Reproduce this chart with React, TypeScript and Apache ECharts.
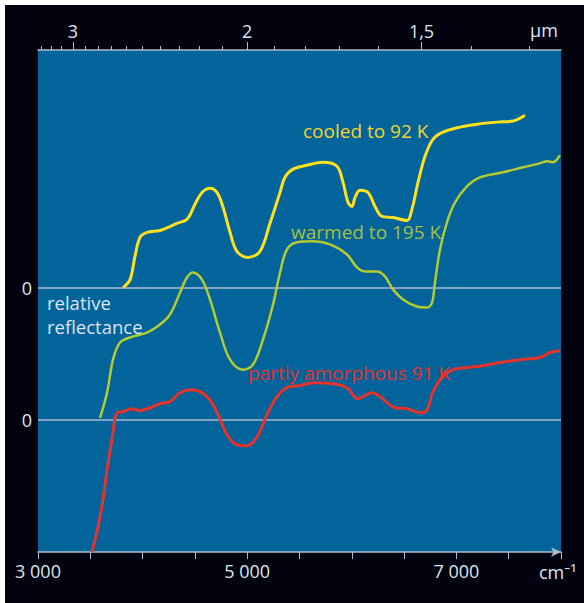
import React, { useEffect, useRef } from "react";
import * as echarts from "echarts";

// wavenumber (cm^-1) and relative reflectance (offset units)
const cooledWn = [3813, 3880, 3927, 3975, 4042, 4166, 4243, 4329, 4424, 4501, 4568, 4644, 4711, 4769, 4836, 4902, 5008, 5122, 5218, 5314, 5361, 5438, 5572, 5725, 5858, 5916, 5964, 6002, 6031, 6078, 6155, 6222, 6289, 6394, 6528, 6575, 6633, 6700, 6776, 6872, 7034, 7197, 7388, 7541, 7656];
const cooledVal = [5.01, 5.31, 6.19, 6.91, 7.1, 7.17, 7.29, 7.44, 7.59, 8.16, 8.61, 8.77, 8.61, 8.05, 7.1, 6.38, 6.15, 6.38, 7.44, 8.61, 9.18, 9.49, 9.64, 9.75, 9.6, 8.99, 8.23, 8.08, 8.42, 8.69, 8.61, 8.08, 7.7, 7.66, 7.55, 7.97, 8.99, 9.98, 10.62, 10.89, 11.08, 11.19, 11.27, 11.31, 11.53];

const warmedWn = [3593, 3660, 3717, 3784, 3880, 4042, 4166, 4262, 4358, 4424, 4482, 4568, 4644, 4740, 4836, 4960, 5055, 5151, 5247, 5314, 5380, 5476, 5629, 5792, 5954, 6050, 6126, 6241, 6317, 6394, 6489, 6623, 6719, 6767, 6795, 6843, 6910, 6987, 7101, 7226, 7445, 7637, 7770, 7866, 7923, 7990];
const warmedVal = [0.08, 1.03, 2.28, 2.93, 3.12, 3.3, 3.61, 3.99, 4.82, 5.39, 5.58, 5.31, 4.56, 3.3, 2.28, 1.9, 2.09, 3.04, 4.37, 5.58, 6.45, 6.72, 6.76, 6.64, 6.26, 5.77, 5.62, 5.62, 5.43, 4.94, 4.56, 4.29, 4.25, 4.44, 5.2, 6.45, 7.48, 8.23, 8.84, 9.18, 9.37, 9.56, 9.68, 9.79, 9.75, 10.02];

const amorphWn = [3516, 3574, 3621, 3660, 3707, 3755, 3813, 3899, 3975, 4071, 4166, 4262, 4358, 4453, 4549, 4644, 4721, 4807, 4902, 4998, 5094, 5189, 5285, 5380, 5505, 5629, 5820, 5954, 6059, 6193, 6270, 6413, 6528, 6652, 6719, 6776, 6862, 6967, 7101, 7254, 7417, 7608, 7799, 7895, 7990];
const amorphVal = [-5.0, -4.05, -3.03, -1.89, -0.75, 0.27, 0.31, 0.42, 0.35, 0.46, 0.61, 0.69, 1.03, 1.14, 1.07, 0.76, 0.2, -0.56, -0.94, -0.98, -0.64, 0.2, 0.88, 1.22, 1.3, 1.41, 1.37, 1.22, 0.8, 1.03, 0.88, 0.46, 0.42, 0.27, 0.38, 1.07, 1.6, 1.9, 1.98, 2.05, 2.17, 2.28, 2.36, 2.55, 2.62];

const bottomLabels = [3000, 5000, 7000];
const micronMinor = [3.3, 3.2, 3.1, 2.9, 2.8, 2.7, 2.6, 2.5, 2.4, 2.3, 2.2, 2.1, 1.9, 1.8, 1.7, 1.6, 1.4, 1.3];
const micronMajor = [3, 2, 1.5];
const zeroLines = [0, 5];

const FONT = "'Open Sans', 'Noto Sans', sans-serif";
const AXIS_COLOR = "#aebbcb";
const TEXT_COLOR = "#dde4ec";
const LABEL_SIZE = 18;
const NOTE_SIZE = 19;

const zip = (a: number[], b: number[]) => a.map((v, i) => [v, b[i]]);

export default function App() {
  const ref = useRef<HTMLDivElement>(null);
  useEffect(() => {
    document.body.style.margin = "0";
    const chart = echarts.init(ref.current!, null, { renderer: "svg" });
    const topAxisBase = {
      type: "value",
      position: "top",
      min: 3000,
      max: 8000,
      splitLine: { show: false },
    };
    const txt = (x: number, y: number, text: string, fill: string, size = NOTE_SIZE) => ({
      type: "text",
      x,
      y,
      style: { text, fill, font: `${size}px ${FONT}`, verticalAlign: "middle", align: "left" },
    });
    chart.setOption({
      animation: false,
      backgroundColor: "#02030f",
      grid: {
        left: 33,
        top: 45,
        right: 23,
        bottom: 51,
        show: true,
        backgroundColor: "#03639b",
        borderWidth: 0,
      },
      xAxis: [
        {
          type: "value",
          position: "bottom",
          min: 3000,
          max: 8000,
          interval: 500,
          splitLine: { show: false },
          axisLine: {
            show: true,
            onZero: false,
            lineStyle: { color: AXIS_COLOR, width: 1.5 },
            symbol: ["none", "arrow"],
            symbolSize: [7, 10],
          },
          axisTick: { show: true, length: 7, lineStyle: { color: AXIS_COLOR, width: 1 } },
          axisLabel: {
            customValues: bottomLabels,
            color: TEXT_COLOR,
            fontFamily: FONT,
            fontSize: LABEL_SIZE,
            margin: 10,
            formatter: (v: number) => String(v).replace(/(\d)(\d{3})$/, "$1 $2"),
          },
        },
        {
          ...topAxisBase,
          axisLine: { show: true, onZero: false, lineStyle: { color: AXIS_COLOR, width: 1.5 } },
          axisTick: {
            show: true,
            length: 4,
            customValues: micronMinor.map((m) => 10000 / m),
            lineStyle: { color: AXIS_COLOR, width: 1 },
          },
          axisLabel: { show: false },
        },
        {
          ...topAxisBase,
          axisLine: { show: false, onZero: false },
          axisTick: {
            show: true,
            length: 8,
            customValues: micronMajor.map((m) => 10000 / m),
            lineStyle: { color: AXIS_COLOR, width: 1 },
          },
          axisLabel: {
            customValues: micronMajor.map((m) => 10000 / m),
            color: TEXT_COLOR,
            fontFamily: FONT,
            fontSize: LABEL_SIZE,
            margin: 10,
            formatter: (v: number) => String(Math.round((10000 / v) * 10) / 10).replace(".", ","),
          },
        },
      ],
      yAxis: {
        type: "value",
        min: -5,
        max: 14,
        show: false,
        splitLine: { show: false },
      },
      series: [
        {
          name: "partly amorphous 91 K",
          type: "line",
          data: zip(amorphWn, amorphVal),
          smooth: 0.35,
          showSymbol: false,
          lineStyle: { color: "#e5322b", width: 3 },
          z: 3,
          markLine: {
            silent: true,
            symbol: "none",
            data: zeroLines.map((y) => ({ yAxis: y })),
            lineStyle: { color: AXIS_COLOR, width: 1.5, type: "solid" },
            label: {
              position: "start",
              formatter: "0",
              color: TEXT_COLOR,
              fontFamily: FONT,
              fontSize: LABEL_SIZE,
              distance: 6,
            },
            z: 1,
          },
        },
        {
          name: "warmed to 195 K",
          type: "line",
          data: zip(warmedWn, warmedVal),
          smooth: 0.35,
          showSymbol: false,
          lineStyle: { color: "#b3cb2e", width: 2.5 },
          z: 3,
        },
        {
          name: "cooled to 92 K",
          type: "line",
          data: zip(cooledWn, cooledVal),
          smooth: 0.35,
          showSymbol: false,
          lineStyle: { color: "#ffe01c", width: 3 },
          z: 3,
        },
      ],
      graphic: [
        txt(525, 25, "µm", TEXT_COLOR, LABEL_SIZE),
        txt(534, 567, "cm⁻¹", TEXT_COLOR, LABEL_SIZE),
        txt(298, 126, "cooled to 92 K", "#f2d52b"),
        txt(286, 227, "warmed to 195 K", "#a6c03e"),
        txt(243, 368, "partly amorphous 91 K", "#e2312c"),
        txt(42, 297, "relative", TEXT_COLOR, 18.5),
        txt(42, 321, "reflectance", TEXT_COLOR, 18.5),
      ],
    });
    return () => chart.dispose();
  }, []);
  return (
    <div style={{ width: 584, height: 603, background: "#ffffff", position: "relative" }}>
      <div ref={ref} style={{ position: "absolute", left: 5, top: 5, width: 579, height: 598 }} />
    </div>
  );
}
